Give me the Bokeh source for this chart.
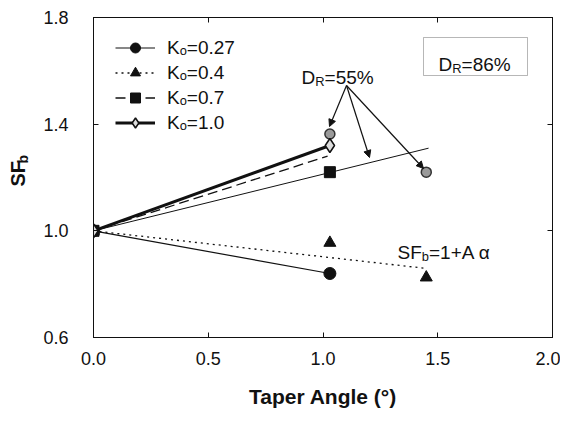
from bokeh.plotting import figure
from bokeh.layouts import row
from bokeh.models import (Range1d, LinearAxis, FixedTicker, Legend, LegendItem, Label,
                          Arrow, NormalHead, BoxAnnotation, NumeralTickFormatter)
from bokeh.embed import file_html
from bokeh.resources import INLINE
import math

# ---------------- data ----------------
angle_a = [0.0, 1.03]
sf_k027 = [1.0, 0.84]
sf_k04 = [1.0, 0.955]
sf_k07 = [1.0, 1.22]
sf_k10 = [1.0, 1.32]
angle_b = [1.45]
sf_k04_b = [0.825]
angle_dr55 = [1.03, 1.45]
sf_dr55 = [1.363, 1.22]
fit_dot_x = [0.0, 1.44]
fit_dot_y = [1.0, 0.86]
fit_thin_x = [0.0, 1.46]
fit_thin_y = [1.0, 1.31]
fit_dash_x = [0.0, 1.02]
fit_dash_y = [1.0, 1.28]
x_ticks = [0.0, 0.5, 1.0, 1.5, 2.0]
y_ticks = [0.6, 1.0, 1.4, 1.8]
legend_labels = ["Kₒ=0.27", "Kₒ=0.4", "Kₒ=0.7", "Kₒ=1.0"]

# ---------------- layout ----------------
LW = 40                      # narrow left figure holding the y title
W, H = 520, 420
ML, MR, MT, MB = 53, 8, 17, 83
FW, FH = W - ML - MR, H - MT - MB
X0, X1, Y0, Y1 = 0.0, 2.0, 0.6, 1.8


def dx(px):  # page px -> data x
    return X0 + (px - LW - ML) * (X1 - X0) / FW


def dy(py):  # page px -> data y
    return Y1 - (py - MT) * (Y1 - Y0) / FH


FONT = "Liberation Sans"
INK = "#111111"

p = figure(width=W, height=H, x_range=Range1d(X0, X1), y_range=Range1d(Y0, Y1),
           output_backend="svg", toolbar_location=None,
           min_border_left=ML, min_border_right=MR, min_border_top=MT, min_border_bottom=MB)
p.xgrid.visible = False
p.ygrid.visible = False
p.outline_line_color = INK
p.background_fill_color = "white"
p.border_fill_color = "white"


def style(ax, ticks, labels=True):
    ax.ticker = FixedTicker(ticks=ticks)
    ax.major_tick_in = 5
    ax.major_tick_out = 0
    ax.minor_tick_in = 0
    ax.minor_tick_out = 0
    ax.axis_line_color = INK
    ax.major_tick_line_color = INK
    ax.major_label_text_font = FONT
    ax.major_label_text_color = INK
    ax.formatter = NumeralTickFormatter(format="0.0")
    if labels:
        ax.major_label_text_font_size = "18px"
    else:
        ax.major_label_overrides = {t: "" for t in ticks}
        ax.major_label_text_font_size = "1px"
        ax.major_label_standoff = 0


style(p.xaxis[0], x_ticks)
style(p.yaxis[0], y_ticks)
p.xaxis[0].major_label_standoff = 14
p.yaxis[0].major_label_standoff = 25
p.xaxis[0].axis_label = "Taper Angle (°)"
p.xaxis[0].axis_label_text_font = FONT
p.xaxis[0].axis_label_text_font_style = "bold"
p.xaxis[0].axis_label_text_font_size = "21px"
p.xaxis[0].axis_label_text_color = INK
p.xaxis[0].axis_label_standoff = 17

top = LinearAxis()
style(top, x_ticks, labels=False)
p.add_layout(top, "above")
right = LinearAxis()
style(right, y_ticks, labels=False)
p.add_layout(right, "right")

# ---------------- lines ----------------
r_dot = p.line(fit_dot_x, fit_dot_y, line_color=INK, line_width=1.3, line_dash="2 4")
r_thin = p.line(fit_thin_x, fit_thin_y, line_color=INK, line_width=1)
r_dash = p.line(fit_dash_x, fit_dash_y, line_color=INK, line_width=1.3, line_dash="10 5")
r_l027 = p.line(angle_a, sf_k027, line_color=INK, line_width=1.2)
r_l10 = p.line(angle_a, sf_k10, line_color=INK, line_width=3)

# ---------------- markers ----------------
r_sq = p.scatter(angle_a, sf_k07, marker="square", size=11, fill_color=INK, line_color=INK)
r_tri = p.scatter(angle_a, sf_k04, marker="triangle", size=12, fill_color=INK, line_color=INK)
p.scatter(angle_b, sf_k04_b, marker="triangle", size=12, fill_color=INK, line_color=INK)
r_cir = p.scatter(angle_a, sf_k027, marker="circle", size=12, fill_color=INK, line_color=INK)
p.scatter(angle_dr55, sf_dr55, marker="circle", size=10, fill_color="#9a9a9a",
          line_color="#333333", line_width=1.5)
r_dia = p.scatter(angle_a, sf_k10, marker="diamond", size=14, fill_color="#dddddd",
                  line_color=INK, line_width=1.5)

legend = Legend(items=[
    LegendItem(label=legend_labels[0], renderers=[r_l027, r_cir]),
    LegendItem(label=legend_labels[1], renderers=[r_dot, r_tri]),
    LegendItem(label=legend_labels[2], renderers=[r_dash, r_sq]),
    LegendItem(label=legend_labels[3], renderers=[r_l10, r_dia]),
], location=(22, 202), glyph_width=40, glyph_height=25, label_height=20,
    spacing=0, padding=0, margin=0, border_line_color=None,
    background_fill_alpha=0, label_text_font=FONT, label_text_font_size="19px",
    label_text_color=INK, label_standoff=12)
p.add_layout(legend, "center")


# ---------------- texts with subscripts ----------------
def rich(fig, parts, x, y, size=19, bold=False):
    """parts: list of (text, is_sub, em_width); x,y data coords of baseline start."""
    off = 0.0
    for text, sub, em in parts:
        fs = size * 0.68 if sub else size
        drop = size * 0.22 if sub else 0.0
        fig.add_layout(Label(x=x, y=y, x_offset=off, y_offset=-drop, text=text,
                             text_font=FONT, text_font_size=f"{fs:.1f}px",
                             text_font_style="bold" if bold else "normal",
                             text_color=INK, text_baseline="alphabetic", text_align="left"))
        off += em * fs


rich(p, [("D", False, 0.722), ("R", True, 0.722), ("=55%", False, 0)], dx(301), dy(77))
rich(p, [("D", False, 0.722), ("R", True, 0.722), ("=86%", False, 0)], dx(438), dy(64))
rich(p, [("SF", False, 1.278), ("b", True, 0.556), ("=1+A α", False, 0)], dx(397), dy(252))

p.add_layout(BoxAnnotation(left=dx(423), right=dx(527), top=dy(37), bottom=dy(75),
                           fill_alpha=0, line_color=INK, line_width=1))

for ex, ey in [(329, 126), (369, 157), (423, 168)]:
    p.add_layout(Arrow(x_start=dx(346), y_start=dy(85), x_end=dx(ex), y_end=dy(ey),
                       line_color=INK, line_width=1.2,
                       end=NormalHead(size=7, fill_color=INK, line_color=INK)))

# ---------------- left strip with the rotated y title ----------------
q = figure(width=LW, height=H, x_range=Range1d(0, LW), y_range=Range1d(0, H),
           output_backend="svg", toolbar_location=None, x_axis_type=None, y_axis_type=None,
           min_border=0, min_border_left=0, min_border_right=0, min_border_top=0,
           min_border_bottom=0)
q.outline_line_color = None
q.xgrid.visible = False
q.ygrid.visible = False
YS = 20
q.add_layout(Label(x=17, y=H - 205, text="SF", angle=math.pi / 2, text_font=FONT,
                   text_font_size=f"{YS}px", text_font_style="bold", text_color=INK,
                   text_baseline="middle", text_align="center"))
q.add_layout(Label(x=22, y=H - 186, text="b", angle=math.pi / 2,
                   text_font=FONT, text_font_size="14px", text_font_style="bold",
                   text_color=INK, text_baseline="middle", text_align="center"))

layout = row(q, p, spacing=0)
open("out.html", "w").write(file_html(layout, INLINE))
